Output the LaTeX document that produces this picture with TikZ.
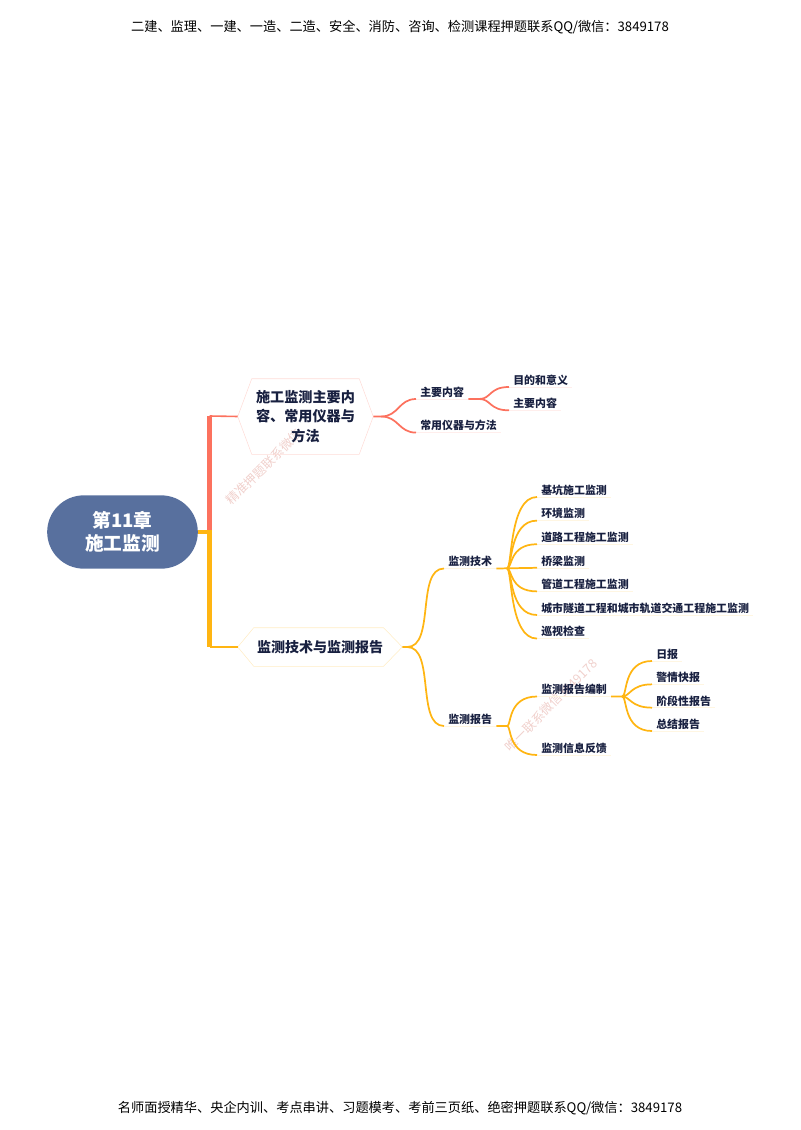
\documentclass[tikz,border=0pt]{standalone}
\usepackage{fontspec}
\setmainfont{Noto Sans CJK SC}
\usetikzlibrary{positioning,shapes.misc}
\definecolor{rootblue}{RGB}{88,112,158}
\definecolor{redline}{RGB}{252,113,94}
\definecolor{yelline}{RGB}{255,181,18}
\definecolor{inkblue}{RGB}{24,32,64}
\definecolor{markred}{RGB}{240,208,204}
\tikzset{
  leaf/.style = {anchor=south west, inner xsep=3pt, inner ysep=1.8pt, text height=7pt, text depth=0pt, font=\fontsize{8.2}{10}\selectfont\bfseries, text=inkblue},
  hexa/.style = {inner sep=0pt, align=center, text=inkblue},
  fan/.style 2 args = {out=0, in=180, out distance=#1, in distance=#2},
  redcon/.style = {redline, line width=1.3pt},
  yelcon/.style = {yelline, line width=1.3pt},
  wmark/.style = {font=\fontsize{9.4}{11}\selectfont, rotate=45, text=markred},
  pageline/.style = {font=\fontsize{9.9}{11}\selectfont}
}
\begin{document}
\begin{tikzpicture}[x=0.75pt, y=-0.75pt]
	\useasboundingbox (0,0) rectangle (800,1130);

	\node[pageline] (top) at (400,27) {二建、监理、一建、一造、二造、安全、消防、咨询、检测课程押题联系QQ/微信：3849178};
	\node[pageline] (bottom) at (400,1108) {名师面授精华、央企内训、考点串讲、习题模考、考前三页纸、绝密押题联系QQ/微信：3849178};

	\node[wmark] (mark1) at (264,467) {精准押题联系微信};
	\node[wmark] (mark2) at (551,705) {唯一联系微信3849178};

	\node[fill=rootblue, rounded rectangle, minimum width=113pt, minimum height=55pt, inner sep=0pt, align=center, text=white, font=\fontsize{14}{17.5}\selectfont\bfseries] (root) at (122.5,532) {第11章\\施工监测};

	\node[hexa, minimum width=101.25pt, minimum height=56.25pt, font=\fontsize{10.6}{14.4}\selectfont\bfseries] (hexa1) at (305.5,416.5) {施工监测主要内\\容、常用仪器与\\方法};
	\node[hexa, minimum width=123pt, minimum height=28.5pt, font=\fontsize{10.5}{12}\selectfont\bfseries] (hexa2) at (320,647) {监测技术与监测报告};
	\draw[redline!25] (hexa1.west) -- ([xshift=10.5pt]hexa1.north west) -- ([xshift=-10.5pt]hexa1.north east) -- (hexa1.east) -- ([xshift=-10.5pt]hexa1.south east) -- ([xshift=10.5pt]hexa1.south west) -- cycle;
	\draw[yelline!25] (hexa2.west) -- ([xshift=12pt]hexa2.north west) -- ([xshift=-14pt]hexa2.north east) -- (hexa2.east) -- ([xshift=-14pt]hexa2.south east) -- ([xshift=12pt]hexa2.south west) -- cycle;

	\node[leaf] (zy) at (416,399) {主要内容};
	\node[leaf] (cy) at ([yshift=-25.2pt]zy.south west) {常用仪器与方法};
	\node[leaf] (md) at (509,387) {目的和意义};
	\node[leaf] (zn) at ([yshift=-17.5pt]md.south west) {主要内容};

	\node[leaf] (js) at (444,568.5) {监测技术};
	\node[leaf] (bg) at (444,726) {监测报告};
	\node[leaf] (j1) at (537,497) {基坑施工监测};
	\node[leaf] (j2) at ([yshift=-17.7pt]j1.south west) {环境监测};
	\node[leaf] (j3) at ([yshift=-17.7pt]j2.south west) {道路工程施工监测};
	\node[leaf] (j4) at ([yshift=-17.7pt]j3.south west) {桥梁监测};
	\node[leaf] (j5) at ([yshift=-17.7pt]j4.south west) {管道工程施工监测};
	\node[leaf] (j6) at ([yshift=-17.7pt]j5.south west) {城市隧道工程和城市轨道交通工程施工监测};
	\node[leaf] (j7) at ([yshift=-17.7pt]j6.south west) {巡视检查};
	\node[leaf] (b1) at (537,696.5) {监测报告编制};
	\node[leaf] (b2) at (537,755) {监测信息反馈};
	\node[leaf] (r1) at (652,661) {日报};
	\node[leaf] (r2) at ([yshift=-17.5pt]r1.south west) {警情快报};
	\node[leaf] (r3) at ([yshift=-17.5pt]r2.south west) {阶段性报告};
	\node[leaf] (r4) at ([yshift=-17.5pt]r3.south west) {总结报告};

	\foreach \n in {zy,cy,md,zn}
		\draw[redline!12] (\n.south west) -- (\n.south east);
	\foreach \n in {js,bg,j1,j2,j3,j4,j5,j6,j7,b1,b2,r1,r2,r3,r4}
		\draw[yelline!12] (\n.south west) -- (\n.south east);

	\coordinate (trunk) at (209.5,530);
	\coordinate (trunktop) at (209.5,416);
	\coordinate (trunkbot) at (209.5,647);
	\draw[redline, line width=3.75pt] (trunk) -- (trunktop);
	\draw[yelline, line width=3.75pt] (trunk) -- (trunkbot);
	\draw[yelline, line width=3pt] (root.east) -- (trunk |- root.east);
	\draw[redline, line width=1.2pt] (trunktop) -- (hexa1.west);
	\draw[yelline, line width=1.2pt] (trunkbot) -- (hexa2.west);

	\draw[redcon] (hexa1.east) -- ++(8,0) coordinate (s1) to[fan={13pt}{13pt}] (zy.south west);
	\draw[redcon] (s1) to[fan={13pt}{13pt}] (cy.south west);
	\draw[redcon] (zy.south east) -- ++(11,0) coordinate (s2) to[fan={9pt}{15pt}] (md.south west);
	\draw[redcon] (s2) to[fan={9pt}{15pt}] (zn.south west);

	\draw[yelcon] (hexa2.east) -- ++(5,0) coordinate (s3) to[fan={21pt}{21pt}] (js.south west);
	\draw[yelcon] (s3) to[fan={21pt}{21pt}] (bg.south west);

	\draw[yelcon] (js.south east) -- (j4.south west);
	\coordinate (s4) at (507,568.5);
	\foreach \n in {j1,j2,j3,j5,j6,j7}
		\draw[yelcon] (s4) to[fan={4pt}{21pt}] (\n.south west);

	\draw[yelcon] (bg.south east) -- ++(11,0) coordinate (s5) to[fan={3pt}{22pt}] (b1.south west);
	\draw[yelcon] (s5) to[fan={3pt}{22pt}] (b2.south west);

	\draw[yelcon] (b1.south east) -- ++(11,0) coordinate (s6) to[fan={4pt}{22pt}] (r1.south west);
	\draw[yelcon] (s6) to[fan={6pt}{16pt}] (r2.south west);
	\draw[yelcon] (s6) to[fan={6pt}{16pt}] (r3.south west);
	\draw[yelcon] (s6) to[fan={4pt}{22pt}] (r4.south west);
\end{tikzpicture}
\end{document}
